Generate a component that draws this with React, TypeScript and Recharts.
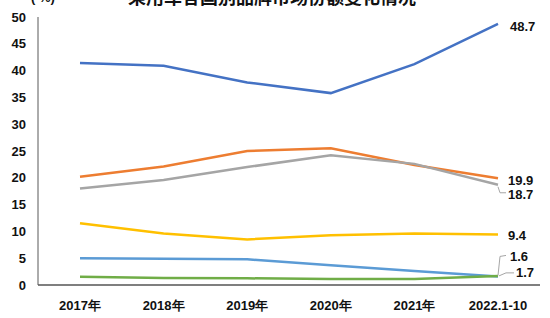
import React from 'react';
import { LineChart, Line, XAxis, YAxis } from 'recharts';

const categories = ['2017年', '2018年', '2019年', '2020年', '2021年', '2022.1-10'];
const chinese = [41.4, 40.9, 37.8, 35.8, 41.2, 48.7];
const german = [20.2, 22.1, 25.0, 25.5, 22.4, 19.9];
const japanese = [18.0, 19.6, 22.0, 24.2, 22.6, 18.7];
const american = [11.5, 9.6, 8.5, 9.3, 9.6, 9.4];
const korean = [5.0, 4.9, 4.8, 3.7, 2.6, 1.6];
const french = [1.55, 1.3, 1.25, 1.1, 1.1, 1.7];
const yTicks = [0, 5, 10, 15, 20, 25, 30, 35, 40, 45, 50];

const data = categories.map((c, i) => ({
  name: c,
  chinese: chinese[i],
  german: german[i],
  japanese: japanese[i],
  american: american[i],
  korean: korean[i],
  french: french[i],
}));

const FONT = '"Liberation Sans", Arial, sans-serif';
const LEADER = '#A6A6A6';

type LabelCfg = { dx: number; dy: number; leader?: (x: number, y: number) => string };

const makeLabel = (cfg: LabelCfg) => (props: any) => {
  const { x, y, index, value } = props;
  if (index !== categories.length - 1) return null;
  return (
    <g>
      {cfg.leader && (
        <path d={cfg.leader(x, y)} stroke={LEADER} strokeWidth={1} fill="none" />
      )}
      <text
        x={x + cfg.dx}
        y={y + cfg.dy}
        fontFamily={FONT}
        fontWeight="bold"
        fontSize={13}
        fill="#111"
        dominantBaseline="central"
      >
        {value}
      </text>
    </g>
  );
};

const series = [
  { key: 'chinese', color: '#4472C4', label: { dx: 12, dy: 3 } },
  { key: 'german', color: '#ED7D31', label: { dx: 10, dy: 2 } },
  {
    key: 'japanese',
    color: '#A5A5A5',
    label: {
      dx: 10,
      dy: 10,
      leader: (x: number, y: number) => `M${x},${y + 2} L${x + 2},${y + 8} L${x + 8},${y + 8}`,
    },
  },
  { key: 'american', color: '#FFC000', label: { dx: 10, dy: 1 } },
  {
    key: 'korean',
    color: '#5B9BD5',
    label: {
      dx: 12,
      dy: -20,
      leader: (x: number, y: number) => `M${x},${y - 1} L${x + 2},${y - 20} L${x + 8},${y - 21}`,
    },
  },
  {
    key: 'french',
    color: '#70AD47',
    label: {
      dx: 18,
      dy: -3,
      leader: (x: number, y: number) => `M${x + 1},${y} L${x + 8},${y - 3} L${x + 16},${y - 3}`,
    },
  },
];

export default function App() {
  return (
    <div style={{ position: 'absolute', left: 0, top: 0, background: '#fff' }}>
      <LineChart
        width={550}
        height={318}
        data={data}
        margin={{ top: 17, right: 10, bottom: 8, left: 8 }}
      >
        <text
          x={272}
          y={4}
          textAnchor="middle"
          fontFamily='"Noto Sans CJK SC", sans-serif'
          fontWeight="bold"
          fontSize={18}
          fill="#111"
        >
          乘用车各国别品牌市场份额变化情况
        </text>
        <text
          x={43}
          y={2}
          textAnchor="middle"
          fontFamily={FONT}
          fontWeight="bold"
          fontSize={13}
          fill="#111"
        >
          ( %)
        </text>
        <XAxis
          dataKey="name"
          height={25}
          padding={{ left: 42, right: 42 }}
          tickLine={false}
          axisLine={{ stroke: '#7F7F7F', strokeWidth: 2 }}
          tickMargin={10}
          tick={{ fontFamily: FONT, fontWeight: 'bold', fontSize: 13, fill: '#111' }}
          interval={0}
        />
        <YAxis
          width={30}
          domain={[0, 50]}
          ticks={yTicks}
          tickLine={false}
          axisLine={{ stroke: '#595959', strokeWidth: 1 }}
          tickMargin={6}
          tick={{ fontFamily: FONT, fontWeight: 'bold', fontSize: 13, fill: '#111' }}
          interval={0}
        />
        {series.map((s) => (
          <Line
            key={s.key}
            type="linear"
            dataKey={s.key}
            stroke={s.color}
            strokeWidth={2.5}
            dot={false}
            activeDot={false}
            isAnimationActive={false}
            label={makeLabel(s.label)}
          />
        ))}
      </LineChart>
    </div>
  );
}
